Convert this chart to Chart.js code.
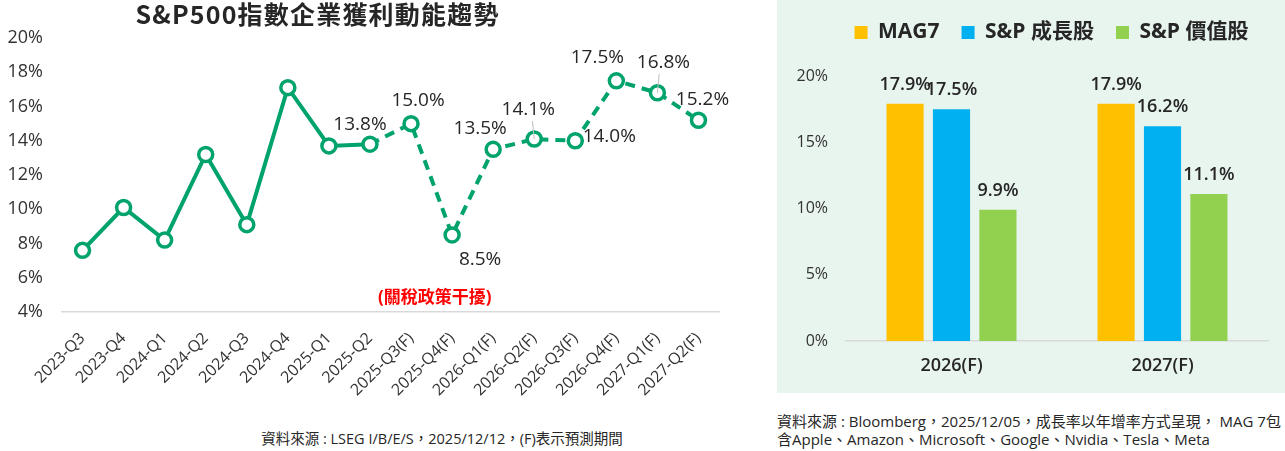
<!DOCTYPE html>
<html>
<head>
<meta charset="utf-8">
<script src="https://cdn.jsdelivr.net/npm/chart.js@4.4.1/dist/chart.umd.min.js"></script>
<style>
  body { margin: 0; width: 1285px; height: 451px; background: #fff; position: relative; overflow: hidden;
         font-family: "Open Sans", "Noto Sans CJK TC", sans-serif; color: #262626; }
  #leftWrap { position: absolute; left: 0; top: 0; width: 770px; height: 400px; }
  #rightWrap { position: absolute; left: 777px; top: 0; width: 508px; height: 393px; background: #e8f4ee; }
  .title { position: absolute; left: 0; top: -5px; width: 635px; text-align: center; font-size: 25px;
           font-weight: bold; letter-spacing: 1.2px; font-family: "Noto Sans CJK TC", sans-serif; }
  .tariff { position: absolute; left: 378px; top: 283px; font-size: 17px; font-weight: bold; color: #ff0000; }
  .srcLeft { position: absolute; left: 0; width: 884px; top: 427px; text-align: center; font-size: 14.5px; }
  .srcRight { position: absolute; left: 777px; top: 412px; width: 508px; font-size: 15px; line-height: 18px; }
</style>
</head>
<body>
<div id="leftWrap"><canvas id="lineChart"></canvas></div>
<div class="title">S&amp;P500指數企業獲利動能趨勢</div>
<div class="tariff">(關稅政策干擾)</div>
<div class="srcLeft">資料來源 : LSEG I/B/E/S，2025/12/12，(F)表示預測期間</div>

<div id="rightWrap"><canvas id="barChart"></canvas></div>
<div class="srcRight">資料來源 : Bloomberg，2025/12/05，成長率以年增率方式呈現， MAG 7包<br>含Apple、Amazon、Microsoft、Google、Nvidia、Tesla、Meta</div>

<script>
// EPS growth by quarter (%)
const quarters = [
  '2023-Q3', '2023-Q4', '2024-Q1', '2024-Q2', '2024-Q3', '2024-Q4', '2025-Q1', '2025-Q2',
  '2025-Q3(F)', '2025-Q4(F)', '2026-Q1(F)', '2026-Q2(F)', '2026-Q3(F)', '2026-Q4(F)', '2027-Q1(F)', '2027-Q2(F)',
];
const epsGrowth = [7.6, 10.1, 8.2, 13.2, 9.1, 17.1, 13.7, 13.8, 15.0, 8.5, 13.5, 14.1, 14.0, 17.5, 16.8, 15.2];
const lastActual = 7; // 2025-Q2, dashes start after this point

// yearly growth by group (%)
const years = ['2026(F)', '2027(F)'];
const mag7 = [17.9, 17.9];
const spGrowth = [17.5, 16.2];
const spValue = [9.9, 11.1];

const green = '#00a36c';
const fontFam = '"Open Sans", "Noto Sans CJK TC", sans-serif';

// label offsets (dx, dy, leader line?) for the labelled points, from index lastActual on
const lineLabelOffsets = [
  [-10, -20], [7, -23], [28, 25], [-13, -21], [-6, -29, true], [34, -4], [-19, -23], [6, -30, true], [4, -21],
];

const lineLabels = {
  id: 'lineLabels',
  afterDatasetsDraw(chart) {
    const { ctx } = chart;
    const meta = chart.getDatasetMeta(0);
    ctx.save();
    ctx.font = '19px ' + fontFam;
    ctx.fillStyle = '#262626';
    ctx.textAlign = 'center';
    ctx.textBaseline = 'middle';
    meta.data.forEach((pt, i) => {
      if (i < lastActual) return;
      const off = lineLabelOffsets[i - lastActual];
      if (off[2]) {
        ctx.strokeStyle = '#bfbfbf';
        ctx.lineWidth = 1;
        ctx.beginPath();
        ctx.moveTo(pt.x + off[0] * 0.3, pt.y + off[1] + 11);
        ctx.lineTo(pt.x, pt.y);
        ctx.stroke();
      }
      ctx.fillText(epsGrowth[i].toFixed(1) + '%', pt.x + off[0], pt.y + off[1]);
    });
    ctx.restore();
  },
};

new Chart(document.getElementById('lineChart'), {
  type: 'line',
  data: {
    labels: quarters,
    datasets: [{
      data: epsGrowth,
      borderColor: green,
      borderWidth: 4,
      pointRadius: 7,
      pointBorderWidth: 3.5,
      pointBackgroundColor: '#fff',
      pointBorderColor: green,
      tension: 0,
      segment: {
        borderDash: (c) => (c.p0DataIndex >= lastActual ? [10, 7] : undefined),
      },
    }],
  },
  options: {
    responsive: true,
    maintainAspectRatio: false,
    animation: false,
    layout: { padding: { top: 38, right: 51, left: 0, bottom: 0 } },
    plugins: { legend: { display: false }, tooltip: { enabled: false } },
    scales: {
      x: {
        offset: true,
        grid: { display: false, drawTicks: false },
        border: { display: true, color: '#d9d9d9', width: 1.5 },
        ticks: { autoSkip: false, minRotation: 45, maxRotation: 45, padding: 17, color: '#333',
                 font: { family: fontFam, size: 16 } },
        afterFit: (s) => { s.height = 88; },
      },
      y: {
        min: 4,
        max: 20,
        grid: { display: false, drawTicks: false },
        border: { display: false },
        ticks: { stepSize: 2, padding: 19, color: '#333', font: { family: fontFam, size: 18 },
                 callback: (v) => v + '%' },
        afterFit: (s) => { s.width = 62; },
      },
    },
  },
  plugins: [lineLabels],
});

const barLabels = {
  id: 'barLabels',
  afterDatasetsDraw(chart) {
    const { ctx } = chart;
    ctx.save();
    ctx.font = '600 18px ' + fontFam;
    ctx.fillStyle = '#262626';
    ctx.textAlign = 'center';
    ctx.textBaseline = 'bottom';
    chart.data.datasets.forEach((ds, di) => {
      chart.getDatasetMeta(di).data.forEach((bar, i) => {
        ctx.fillText(ds.data[i].toFixed(1) + '%', bar.x, bar.y - 10);
      });
    });
    ctx.restore();
  },
};

// legend sits a bit right of the canvas centre and further above the plot
const legendTweak = {
  id: 'legendTweak',
  afterInit(chart) {
    const legend = chart.legend;
    const fit = legend.fit;
    const draw = legend.draw;
    legend.fit = function () {
      fit.call(this);
      this.height += 23;
    };
    legend.draw = function () {
      this.ctx.save();
      this.ctx.translate(29, 0);
      draw.call(this);
      this.ctx.restore();
    };
  },
};

new Chart(document.getElementById('barChart'), {
  type: 'bar',
  data: {
    labels: years,
    datasets: [
      { label: 'MAG7', data: mag7, backgroundColor: '#ffc000' },
      { label: 'S&P 成長股', data: spGrowth, backgroundColor: '#00b0f0' },
      { label: 'S&P 價值股', data: spValue, backgroundColor: '#92d050' },
    ],
  },
  options: {
    responsive: true,
    maintainAspectRatio: false,
    animation: false,
    categoryPercentage: 0.66,
    barPercentage: 0.8,
    layout: { padding: { top: 0, right: 17, left: 0, bottom: 0 } },
    plugins: {
      tooltip: { enabled: false },
      legend: {
        position: 'top',
        labels: { boxWidth: 13, boxHeight: 13, padding: 22, color: '#262626',
                  font: { family: fontFam, size: 21, weight: 'bold' } },
      },
    },
    scales: {
      x: {
        grid: { display: false, drawTicks: false },
        border: { display: true, color: '#d9d9d9', width: 1.5 },
        ticks: { padding: 14, color: '#262626', font: { family: fontFam, size: 18, weight: '600' } },
        afterFit: (s) => { s.height = 52; },
      },
      y: {
        min: 0,
        max: 20,
        grid: { display: false, drawTicks: false },
        border: { display: false },
        ticks: { stepSize: 5, padding: 18, color: '#333', font: { family: fontFam, size: 16 },
                 callback: (v) => v + '%' },
        afterFit: (s) => { s.width = 69; },
      },
    },
  },
  plugins: [barLabels, legendTweak],
});
</script>
</body>
</html>
